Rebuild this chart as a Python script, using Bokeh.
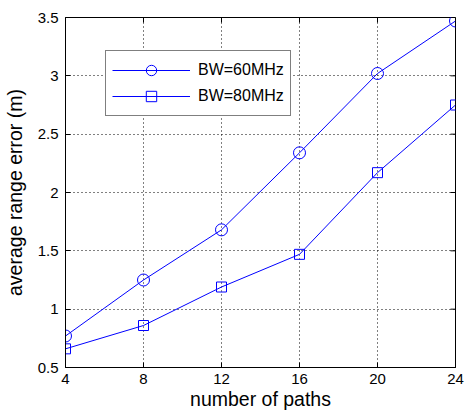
import math
from bokeh.plotting import figure
from bokeh.models import Range1d, FixedTicker, Legend, LegendItem
from bokeh.embed import file_html
from bokeh.resources import INLINE

paths = [4, 8, 12, 16, 20, 24]
bw60 = [0.77, 1.25, 1.68, 2.34, 3.02, 3.47]
bw80 = [0.66, 0.86, 1.19, 1.47, 2.17, 2.75]
x_ticks = [4, 8, 12, 16, 20, 24]
y_ticks = [0.5, 1, 1.5, 2, 2.5, 3, 3.5]
y_tick_labels = ["0.5", "1", "1.5", "2", "2.5", "3", "3.5"]
series_names = ["BW=60MHz", "BW=80MHz"]

FONT = "Liberation Sans"
BLUE = "#0000ff"
X0, X1, Y0, Y1 = 4, 24, 0.5, 3.5

p = figure(width=465, height=415, output_backend="svg", toolbar_location=None,
           x_range=Range1d(X0, X1), y_range=Range1d(Y0, Y1),
           min_border_left=62, min_border_right=10, min_border_top=17, min_border_bottom=48)
p.background_fill_color = "white"
p.border_fill_color = "white"
p.outline_line_color = "black"
p.outline_line_width = 1

for ax in (p.xaxis[0], p.yaxis[0]):
    ax.major_tick_in = 5
    ax.major_tick_out = 0
    ax.minor_tick_in = 0
    ax.minor_tick_out = 0
    ax.axis_line_color = "black"
    ax.major_tick_line_color = "black"
    ax.major_label_text_font = FONT
    ax.major_label_text_font_size = "15px"
    ax.major_label_text_color = "black"
    ax.axis_label_text_font = FONT
    ax.axis_label_text_font_size = "19.5px"
    ax.axis_label_text_font_style = "normal"
    ax.axis_label_text_color = "black"

p.xaxis[0].ticker = FixedTicker(ticks=x_ticks)
p.yaxis[0].ticker = FixedTicker(ticks=y_ticks)
p.yaxis[0].major_label_overrides = {v: s for v, s in zip(y_ticks, y_tick_labels)}
p.xaxis[0].axis_label = "number of paths"
p.yaxis[0].axis_label = "average range error (m)"
p.xaxis[0].major_label_standoff = 6
p.yaxis[0].major_label_standoff = 7
p.xaxis[0].axis_label_standoff = 1
p.yaxis[0].axis_label_standoff = 9

p.xgrid.ticker = FixedTicker(ticks=x_ticks)
p.ygrid.ticker = FixedTicker(ticks=y_ticks)
for g in (p.xgrid[0], p.ygrid[0]):
    g.grid_line_color = "black"
    g.grid_line_alpha = 1
    g.grid_line_dash = "1 3"
    g.grid_line_width = 1

# mirrored inward ticks on top and right edges (MATLAB box style)
p.scatter(x_ticks, [Y1] * len(x_ticks), marker="dash", angle=math.pi / 2, size=10,
          line_color="black", line_width=1)
p.scatter([X1] * len(y_ticks), y_ticks, marker="dash", size=10,
          line_color="black", line_width=1)

l1 = p.line(paths, bw60, line_color=BLUE, line_width=1)
m1 = p.scatter(paths, bw60, marker="circle", size=12, line_color=BLUE, fill_color=None, line_width=1)
l2 = p.line(paths, bw80, line_color=BLUE, line_width=1)
m2 = p.scatter(paths, bw80, marker="square", size=10, line_color=BLUE, fill_color=None, line_width=1)

legend = Legend(items=[LegendItem(label=series_names[0], renderers=[l1, m1]),
                       LegendItem(label=series_names[1], renderers=[l2, m2])],
                location=(40, 251))
legend.border_line_color = "black"
legend.border_line_width = 1
legend.background_fill_color = "white"
legend.background_fill_alpha = 1
legend.label_text_font = FONT
legend.label_text_font_size = "16px"
legend.label_text_color = "black"
legend.padding = 6
legend.margin = 0
legend.spacing = 0
legend.glyph_width = 78
legend.glyph_height = 26
legend.label_height = 26
legend.label_standoff = 8
p.add_layout(legend, "center")

open("out.html", "w").write(file_html(p, INLINE))
